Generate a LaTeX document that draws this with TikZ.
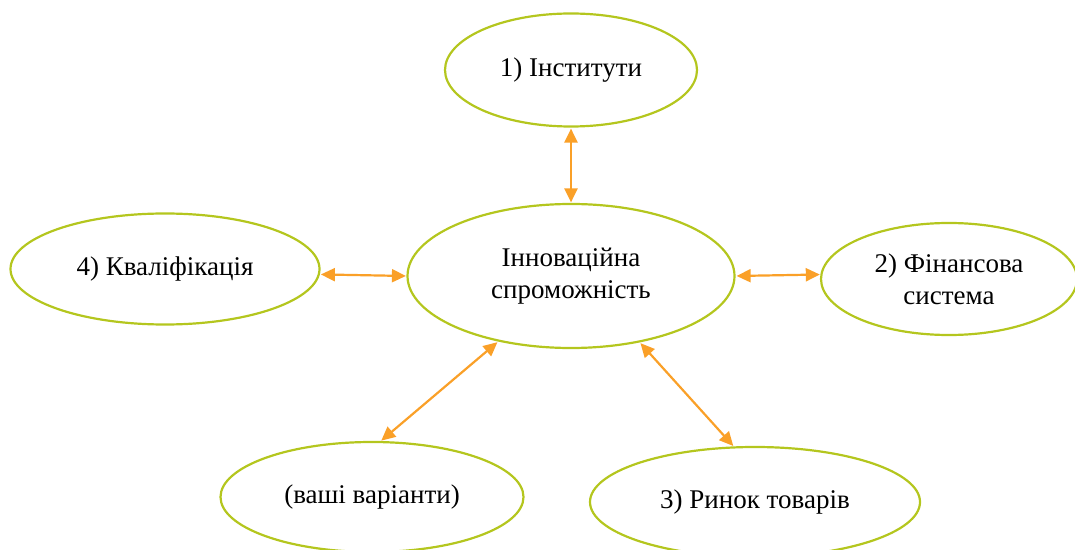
\documentclass[tikz,border=0pt]{standalone}
\usepackage{fontspec}
\setmainfont{Liberation Serif}
\newfontfamily\tnrfont{Liberation Serif}
\usetikzlibrary{shapes.geometric,arrows.meta}
\definecolor{elgreen}{RGB}{180,198,30}
\definecolor{arrorange}{RGB}{250,160,40}
\tikzset{
  oval/.style={ellipse, draw=elgreen, line width=2.2pt, inner sep=0pt, align=center,
    font=\tnrfont\fontsize{27}{32}\selectfont, text=black},
  link/.style={draw=arrorange, line width=2.2pt,
    {Triangle[length=14pt,width=13pt]}-{Triangle[length=14pt,width=13pt]},
    shorten <=1pt, shorten >=0.5pt}
}
\begin{document}
\begin{tikzpicture}[x=1pt,y=1pt]
\useasboundingbox (0,0) rectangle (1075,549);
\node[oval, minimum width=252pt, minimum height=113pt] (t) at (571,479) {1) Інститути};
\node[oval, minimum width=327pt, minimum height=144pt] (c) at (571,273) {Інноваційна\\спроможність};
\node[oval, minimum width=309pt, minimum height=111pt] (l) at (165,280) {4) Кваліфікація};
\node[oval, minimum width=256pt, minimum height=112pt] (r) at (949,270) {2) Фінансова\\система};
\node[oval, minimum width=303pt, minimum height=110pt] (bl) at (372,52) {(ваші варіанти)};
\node[oval, minimum width=330pt, minimum height=110pt] (br) at (755,47) {3) Ринок товарів};
\draw[link] (t.south) -- (c.north);
\draw[link] (l.-2.5) -- (c.180);
\draw[link] (c.-0.7) -- (r.178.6);
\draw[link] (c.222) -- (bl.81);
\draw[link] (c.316.6) -- (br.111);
\end{tikzpicture}
\end{document}
